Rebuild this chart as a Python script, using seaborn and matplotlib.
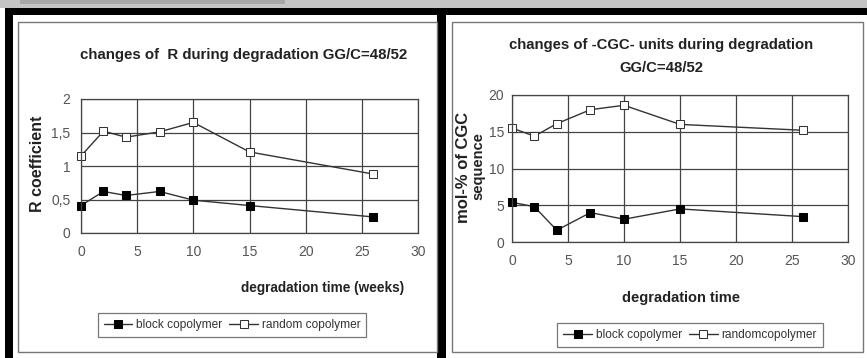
import matplotlib
matplotlib.use("Agg")
import matplotlib.pyplot as plt
import seaborn as sns
import pandas as pd
from matplotlib.patches import Rectangle

# Data
weeks = [0, 2, 4, 7, 10, 15, 26]
r_block = [0.41, 0.62, 0.56, 0.62, 0.49, 0.41, 0.24]
r_random = [1.15, 1.52, 1.43, 1.51, 1.65, 1.21, 0.88]
cgc_block = [5.4, 4.8, 1.6, 4.0, 3.1, 4.5, 3.45]
cgc_random = [15.5, 14.4, 16.1, 18.0, 18.6, 16.0, 15.2]

x_ticks = [0, 5, 10, 15, 20, 25, 30]
r_ticks = [0, 0.5, 1, 1.5, 2]
r_tick_labels = ["0", "0,5", "1", "1,5", "2"]
cgc_ticks = [0, 5, 10, 15, 20]

W, H = 867, 358

sns.set_style("white")
plt.rcParams['font.family'] = ['Liberation Sans', 'DejaVu Sans']

fig = plt.figure(figsize=(W / 100, H / 100), dpi=100)


def px_rect(x0, y0, x1, y1, **kw):
    """Rectangle in pixel coords (top-left origin)."""
    fig.add_artist(Rectangle((x0 / W, 1 - y1 / H), (x1 - x0) / W, (y1 - y0) / H,
                             transform=fig.transFigure, **kw))


def px_ax(x0, y0, x1, y1):
    return fig.add_axes([x0 / W, 1 - y1 / H, (x1 - x0) / W, (y1 - y0) / H])


# page decoration: grey strip on top and black frames
px_rect(0, 0, W, 8, facecolor="#c4c4c4", edgecolor="none")
px_rect(20, 0, 285, 4, facecolor="#a6a6a6", edgecolor="none")
px_rect(5, 8, W, 15, facecolor="black", edgecolor="none")
px_rect(5, 8, 13, H, facecolor="black", edgecolor="none")
px_rect(437, 8, 446, H, facecolor="black", edgecolor="none")
px_rect(18, 22, 437, 352, facecolor="none", edgecolor="#777777", lw=1)
px_rect(452, 22, 863, 352, facecolor="none", edgecolor="#777777", lw=1)

line_col = "#333333"
text_col = "#222222"


def draw_panel(ax, block, random, yticks, ylabels, ypad):
    df = pd.DataFrame({"week": weeks * 2,
                       "value": block + random,
                       "series": ["block"] * len(weeks) + ["random"] * len(weeks)})
    sns.lineplot(data=df[df.series == "block"], x="week", y="value", ax=ax,
                 color=line_col, lw=1, marker="s", markersize=5.5,
                 markerfacecolor="black", markeredgecolor="black", clip_on=False)
    sns.lineplot(data=df[df.series == "random"], x="week", y="value", ax=ax,
                 color=line_col, lw=1, marker="s", markersize=5.5,
                 markerfacecolor="white", markeredgecolor=line_col, clip_on=False)
    ax.set_xlim(0, 30)
    ax.set_ylim(yticks[0], yticks[-1])
    ax.set_xticks(x_ticks)
    ax.set_yticks(yticks)
    ax.set_yticklabels(ylabels)
    ax.tick_params(labelsize=10, colors="#555555", length=5, direction="inout")
    ax.tick_params(axis="y", pad=ypad)
    ax.tick_params(axis="x", pad=6)
    ax.grid(True, color="#444444", lw=0.9)
    for s in ax.spines.values():
        s.set_color("#444444")
        s.set_linewidth(0.9)
    ax.set_xlabel("")
    ax.set_ylabel("")


ax1 = px_ax(81, 99, 418, 233)
draw_panel(ax1, r_block, r_random, r_ticks, r_tick_labels, 5)
ax2 = px_ax(512, 95, 848, 242)
draw_panel(ax2, cgc_block, cgc_random, cgc_ticks, [str(t) for t in cgc_ticks], 3)

# texts
fig.text(244 / W, 1 - 55 / H, "changes of  R during degradation GG/C=48/52",
         ha="center", va="center", fontsize=10.8, fontweight="bold", color=text_col)
fig.text(661 / W, 1 - 45 / H, "changes of -CGC- units during degradation",
         ha="center", va="center", fontsize=10.7, fontweight="bold", color=text_col)
fig.text(661 / W, 1 - 68 / H, "GG/C=48/52",
         ha="center", va="center", fontsize=10.7, fontweight="bold", color=text_col)
fig.text(38 / W, 1 - 164 / H, "R coefficient", rotation=90,
         ha="center", va="center", fontsize=11.5, fontweight="bold", color=text_col)
fig.text(463 / W, 1 - 167 / H, "mol-% of CGC", rotation=90,
         ha="center", va="center", fontsize=12, fontweight="bold", color=text_col)
fig.text(478 / W, 1 - 166 / H, "sequence", rotation=90,
         ha="center", va="center", fontsize=10.5, fontweight="bold", color=text_col)
fig.text(323 / W, 1 - 288 / H, "degradation time (weeks)",
         ha="center", va="center", fontsize=9.8, fontweight="bold", color=text_col)
fig.text(681 / W, 1 - 298 / H, "degradation time",
         ha="center", va="center", fontsize=10.5, fontweight="bold", color=text_col)

# legends
for ax, labels, (cx, cy) in [(ax1, ["block copolymer", "random copolymer"], (232, 325)),
                             (ax2, ["block copolymer", "randomcopolymer"], (690, 335))]:
    lines = ax.get_lines()[:2]
    leg = fig.legend(lines, labels, loc="center", bbox_to_anchor=(cx / W, 1 - cy / H),
                     ncol=2, fontsize=8.6, frameon=True, fancybox=False,
                     handlelength=2.4, columnspacing=0.6, handletextpad=0.3,
                     borderpad=0.5, labelcolor="#333333")
    leg.get_frame().set_edgecolor("#555555")
    leg.get_frame().set_linewidth(0.9)

fig.savefig("out.png", dpi=100)
